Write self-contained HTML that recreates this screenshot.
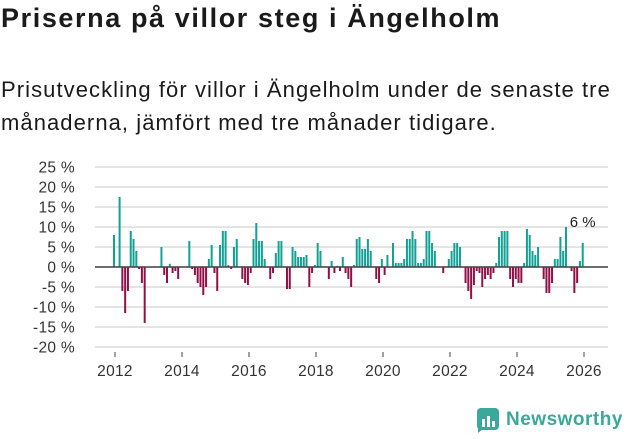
<!DOCTYPE html>
<html><head><meta charset="utf-8"><style>
body{margin:0;width:631px;height:439px;background:#fff;font-family:"Liberation Sans","DejaVu Sans",sans-serif;color:#222;overflow:hidden;position:relative}
h1{position:absolute;left:1px;top:3px;margin:0;font-size:27px;font-weight:bold;color:#1a1a1a;letter-spacing:1.6px;white-space:nowrap}
p{position:absolute;left:1px;top:73px;margin:0;font-size:22px;line-height:33px;color:#1a1a1a;width:640px;letter-spacing:1.07px;white-space:nowrap}
svg{position:absolute;left:0;top:0}
</style></head><body>
<h1>Priserna på villor steg i Ängelholm</h1>
<p>Prisutveckling för villor i Ängelholm under de senaste tre<br>månaderna, jämfört med tre månader tidigare.</p>
<svg id="chart" width="631" height="439"></svg>
<div style="position:absolute;left:476px;top:407px;display:flex;align-items:center">
<svg width="24" height="26" style="position:static"><rect x="1" y="1" width="22" height="22" rx="4" fill="#3aa89a"/><rect x="6" y="12" width="3" height="8" fill="#fff"/><rect x="11" y="9" width="3" height="11" fill="#fff"/><rect x="16" y="14" width="3" height="6" fill="#fff"/><path d="M2 22 L2 26 L7 22Z" fill="#3aa89a"/></svg>
<span style="font-size:19px;font-weight:bold;color:#3aa89a;margin-left:6px;letter-spacing:0.5px">Newsworthy</span></div>
<script>
const values=[8,0,17.5,-6,-11.5,-6,9,7,4,-0.5,-4,-14,
0,0,0,0,0,5,-2,-4,0.8,-1.5,-1,-3,
0,0,0,6.5,-0.5,-2,-4,-5,-7,-5,2,5.5,
-1.5,-6,5.5,9,9,0.5,-0.5,5,7,0,-3,-4,
-4.5,-1.5,7,11,6.5,6.5,2,0,-3,-1.5,3.5,6.5,
6.5,0,-5.5,-5.5,5,4,2.5,2.5,2.5,3,-5,-1.5,
0.5,6,4,0,0,-3,1.5,-1.5,0.3,-1,2.5,-1.5,
-3,-5,0.5,7,7.5,4.5,4.5,7,4,0,-3,-4,
2,-2,3,0,6,1,1,1,2,7,7,9,
7,1,1,2,9,9,6,4,0,0,-1.5,0,
2,4,6,6,5,0,-4,-6,-8,-4.5,-1,-1.5,
-5,-3,-2,-3,-1.5,1,7.5,9,9,9,-3,-5,
-3,-4,-4,1,9.5,8,4,3,5,0,-3,-6.5,
-6.5,-4,2,2,7.5,4,10,0,-1,-6.5,-4,1.5,6];
const yTicks=[25,20,15,10,5,0,-5,-10,-15,-20];
const xYears=[2012,2014,2016,2018,2020,2022,2024,2026];
const startYear=2012;
const lastLabel="6 %";
const svg=document.getElementById('chart');const NS='http://www.w3.org/2000/svg';
const y=v=>267-v*4;
const xi=i=>113+2.79*i;
const xy=yr=>115+(yr-startYear)*33.5;
function mk(t,a){const e=document.createElementNS(NS,t);for(const k in a)e.setAttribute(k,a[k]);svg.appendChild(e);return e;}
yTicks.forEach(t=>{
 const g=mk('line',{x1:95,x2:608,y1:y(t),y2:y(t),stroke:'#dcdcdc','stroke-width':1.5});
 
 
 const l=mk('text',{x:75,y:y(t)+5.5,'text-anchor':'end','font-size':15.5,fill:'#333','letter-spacing':0.3});
 l.textContent=t+' %';
 
 
});
values.forEach((v,i)=>{
 const r=mk('rect',{x:xi(i),width:2,y:Math.min(y(v),y(0)),height:Math.abs(y(v)-y(0)),fill:v>=0?'#12a195':'#930f48'});
 
 
});
const z=mk('line',{x1:95,x2:608,y1:y(0),y2:y(0),stroke:'#444','stroke-width':1.5});


xYears.forEach(yr=>{
 const t=mk('line',{x1:xy(yr),x2:xy(yr),y1:352,y2:357,stroke:'#444','stroke-width':1});
 
 
 const l=mk('text',{x:xy(yr),y:376,'text-anchor':'middle','font-size':15.5,fill:'#333','letter-spacing':0.3});
 l.textContent=yr;
 
 
});
const li=values.length-1;
const lab=mk('text',{x:xi(li)+1,y:y(values[li])-16,'text-anchor':'middle','font-size':15,fill:'#222'});
lab.textContent=lastLabel;


</script>
</body></html>
